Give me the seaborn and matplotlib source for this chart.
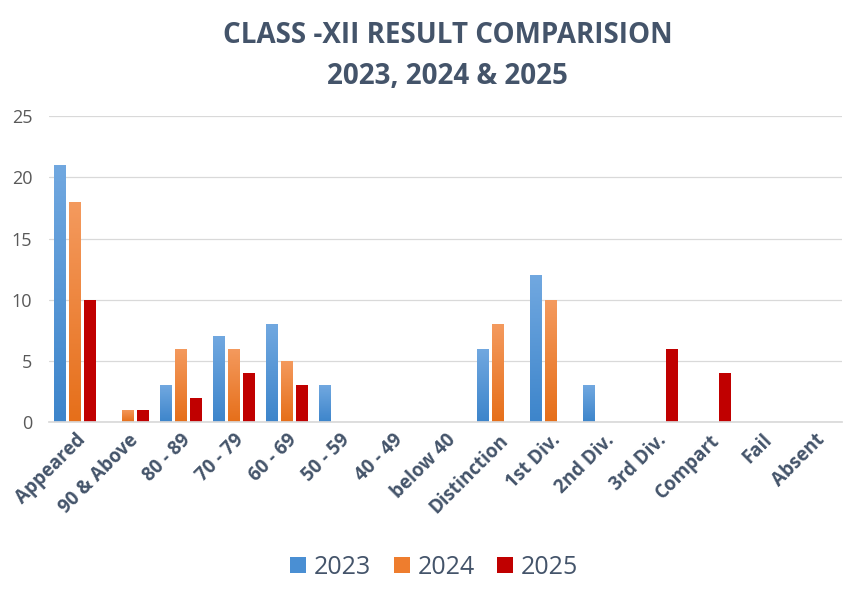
import numpy as np
import pandas as pd
import seaborn as sns
import matplotlib.pyplot as plt
from matplotlib.colors import LinearSegmentedColormap

categories = ["Appeared", "90 & Above", "80 - 89", "70 - 79", "60 - 69", "50 - 59",
              "40 - 49", "below 40", "Distinction", "1st Div.", "2nd Div.", "3rd Div.",
              "Compart", "Fail", "Absent"]
years = ["2023", "2024", "2025"]
v2023 = [21, 0, 3, 7, 8, 3, 0, 0, 6, 12, 3, 0, 0, 0, 0]
v2024 = [18, 1, 6, 6, 5, 0, 0, 0, 8, 10, 0, 0, 0, 0, 0]
v2025 = [10, 1, 2, 4, 3, 0, 0, 0, 0, 0, 0, 6, 4, 0, 0]
yticks = [0, 5, 10, 15, 20, 25]

df = pd.DataFrame({
    "Category": categories * 3,
    "Year": sum([[y] * len(categories) for y in years], []),
    "Value": v2023 + v2024 + v2025,
})

sns.set_theme(style="white")
plt.rcParams['font.family'] = ['Open Sans', 'DejaVu Sans']

text_col = "#44546a"
palette = {"2023": "#4a8fd3", "2024": "#ee7d2e", "2025": "#c00000"}
grads = {
    "2023": ("#71a8e0", "#3d85cb"),
    "2024": ("#f49a5e", "#e66f1a"),
}

fig = plt.figure(figsize=(8.58, 5.96), dpi=100)
ax = fig.add_axes([0.057, 0.292, 0.924, 0.513])

sns.barplot(data=df, x="Category", y="Value", hue="Year", palette=palette,
            order=categories, hue_order=years, width=0.85, gap=0.2,
            ax=ax, legend=True, saturation=1, linewidth=0, edgecolor="none")

# gradient fills
n = len(categories)
for i, yr in enumerate(years):
    if yr not in grads:
        continue
    cmap = LinearSegmentedColormap.from_list(yr, [grads[yr][1], grads[yr][0]])
    for p in ax.containers[i]:
        h = p.get_height()
        if h <= 0:
            continue
        x0 = p.get_x(); w = p.get_width()
        img = ax.imshow(np.linspace(0, 1, 100).reshape(-1, 1), cmap=cmap,
                        extent=[x0, x0 + w, 0, h], origin="lower",
                        aspect="auto", zorder=p.get_zorder() + 0.1)
        img.set_clip_path(p)

ax.set_xlim(-0.5, n - 0.5)
ax.set_ylim(0, 25)
ax.set_yticks(yticks)
ax.set_yticklabels([str(t) for t in yticks], fontsize=13, color="#595959")
ax.yaxis.grid(True, color="#d9d9d9", linewidth=0.9)
ax.set_axisbelow(True)
for s in ["top", "right", "left"]:
    ax.spines[s].set_visible(False)
ax.spines["bottom"].set_color("#d9d9d9")
ax.tick_params(axis="y", length=0, pad=12)
ax.tick_params(axis="x", length=0, pad=6)
ax.set_xlabel("")
ax.set_ylabel("")
ax.set_xticks(range(n))
ax.set_xticklabels(categories, rotation=45, ha="right", rotation_mode="anchor",
                   fontsize=13.5, fontweight="bold", color=text_col)

handles, labels = ax.get_legend_handles_labels()
ax.legend_.remove()
fig.legend(handles, labels, loc="center", bbox_to_anchor=(0.506, 0.048), ncol=3,
           frameon=False, fontsize=18, labelcolor=text_col, handlelength=0.65,
           handleheight=0.65, handletextpad=0.3, columnspacing=0.9)

fig.text(0.522, 0.94, "CLASS -XII RESULT COMPARISION", ha="center", va="center",
         fontsize=20, fontweight="bold", color=text_col)
fig.text(0.522, 0.872, "2023, 2024 & 2025", ha="center", va="center",
         fontsize=20, fontweight="bold", color=text_col)

fig.savefig("out.png", dpi=100, facecolor="white")
